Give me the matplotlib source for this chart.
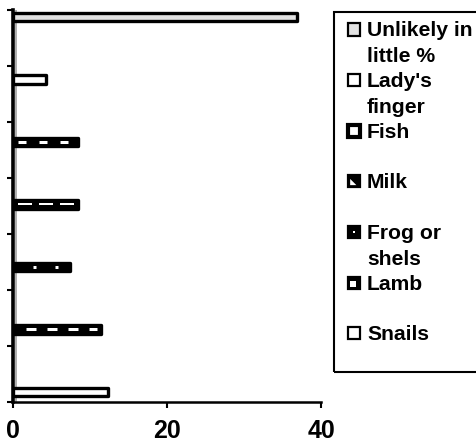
import matplotlib.pyplot as plt
import numpy as np
from matplotlib.patches import Rectangle, Polygon

plt.rcParams['font.family'] = ['Liberation Sans', 'DejaVu Sans']
plt.rcParams['font.weight'] = 'bold'
plt.rcParams['lines.scale_dashes'] = False

# data (top to bottom)
categories = ["Unlikely in\nlittle %", "Lady's\nfinger", "Fish", "Milk",
              "Frog or\nshels", "Lamb", "Snails"]
values = [36.9, 4.3, 8.4, 8.4, 7.4, 11.4, 12.4]
xticks = [0, 20, 40]

W, H = 476, 443
fig = plt.figure(figsize=(W/100, H/100), dpi=100)
ax = fig.add_axes([13/W, 41/H, 308/W, 392/H])

n = len(categories)
pos = np.arange(n)[::-1]
ymin, ymax = -0.16, 6.11

# bar styles
faces = ['#e2e2e2', 'white', 'black', 'black', 'black', 'black', 'white']
# white dash overlay: (start in data units, on px, off px, width px) or None
dashes = [None, None, (0.65, 8, 13, 3), (0.65, 14, 7, 2),
          (2.65, 3, 19, 3), (1.7, 10, 11, 3), None]

# shadow line next to the axis
ax.axvline(0.4, color='#a8a8a8', lw=1.3, zorder=1)

ax.barh(pos, values, height=0.14, color=faces, edgecolor='black',
        linewidth=2.4, joinstyle='round', zorder=3)

px = 0.72  # points per pixel at dpi 100
for p, v, d in zip(pos, values, dashes):
    if d is None:
        continue
    start, on, off, w = d
    ax.hlines(p, start, v - 0.45, colors='white', linewidth=w*px,
              linestyles=(0, (on*px, off*px)), capstyle='butt', zorder=4)

ax.set_xlim(0, 40)
ax.set_ylim(ymin, ymax)
ax.set_xticks(xticks)
ax.set_xticklabels([str(t) for t in xticks], fontsize=18, fontweight='bold')
ax.set_yticks(np.linspace(ymin, ymax, 8))
ax.set_yticklabels([])
ax.tick_params(axis='x', length=4, width=1.5, pad=8)
ax.tick_params(axis='y', length=4, width=1.5)
for s in ['top', 'right']:
    ax.spines[s].set_visible(False)
ax.spines['left'].set_linewidth(2.6)
ax.spines['bottom'].set_linewidth(1.8)
ax.spines['left'].set_zorder(5)


def fxy(x, y):
    return x / W, 1 - y / H


# legend box
lx, ly = fxy(334, 372)
fig.patches.append(Rectangle((lx, ly), 0.5, (372 - 12) / H, fill=False,
                             edgecolor='black', lw=1.5,
                             transform=fig.transFigure))

base0, step, lstep = 36.5, 50.6, 26
for i, lab in enumerate(categories):
    b = base0 + step * i
    for k, line in enumerate(lab.split('\n')):
        x, y = fxy(367, b + k * lstep)
        fig.text(x, y, line, fontsize=15.2, fontweight='bold',
                 va='baseline', ha='left')
    # marker
    mx, my = fxy(348, b - 1)
    mw, mh = 12 / W, 12 / H
    face = faces[i]
    lw = 1.6
    if categories[i] == 'Fish':
        face, lw = 'white', 3.0
    fig.patches.append(Rectangle((mx, my), mw, mh, facecolor=face,
                                 edgecolor='black', lw=lw,
                                 transform=fig.transFigure))
    if categories[i] == 'Milk':
        fig.patches.append(Polygon([(mx + mw*0.18, my + mh*0.18),
                                    (mx + mw*0.7, my + mh*0.18),
                                    (mx + mw*0.18, my + mh*0.7)],
                                   facecolor='white', edgecolor='none',
                                   transform=fig.transFigure))
    if categories[i].startswith('Frog'):
        fig.patches.append(Rectangle((mx + mw*0.4, my + mh*0.4), mw*0.2,
                                     mh*0.2, facecolor='white',
                                     edgecolor='none',
                                     transform=fig.transFigure))
    if categories[i] == 'Lamb':
        fig.patches.append(Rectangle((mx + mw*0.15, my + mh*0.15), mw*0.5,
                                     mh*0.5, facecolor='white',
                                     edgecolor='none',
                                     transform=fig.transFigure))

fig.savefig('out.png', dpi=100)
